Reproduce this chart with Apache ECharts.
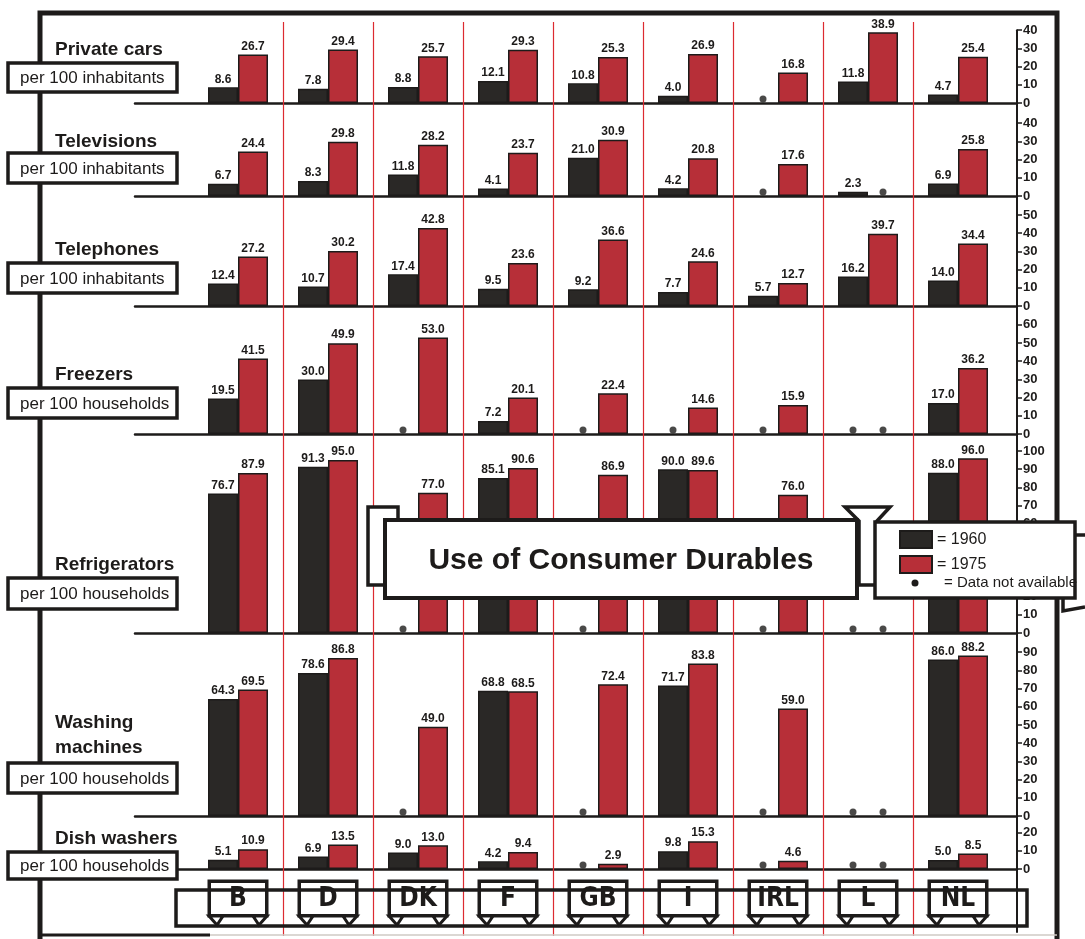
<!DOCTYPE html>
<html>
<head>
<meta charset="utf-8">
<script src="https://cdn.jsdelivr.net/npm/echarts@6/dist/echarts.min.js"></script>
<style>
html,body{margin:0;padding:0;background:#fff}
#chart{width:1085px;height:939px}
</style>
</head>
<body>
<div id="chart"></div>
<script>
// ---- data ----
const categories = ['B', 'D', 'DK', 'F', 'GB', 'I', 'IRL', 'L', 'NL'];
const yearNames = ['1960', '1975'];
const rowTitles = ['Private cars', 'Televisions', 'Telephones', 'Freezers', 'Refrigerators', 'Washing\nmachines', 'Dish washers'];
const rowUnits = ['per 100 inhabitants', 'per 100 inhabitants', 'per 100 inhabitants', 'per 100 households', 'per 100 households', 'per 100 households', 'per 100 households'];
const axisMax = [40, 40, 50, 60, 100, 90, 20];
const chartTitle = 'Use of Consumer Durables';
const missingText = 'Data not available';

// null = data not available
const cars1960 = [8.6, 7.8, 8.8, 12.1, 10.8, 4.0, null, 11.8, 4.7];
const cars1975 = [26.7, 29.4, 25.7, 29.3, 25.3, 26.9, 16.8, 38.9, 25.4];
const tv1960 = [6.7, 8.3, 11.8, 4.1, 21.0, 4.2, null, 2.3, 6.9];
const tv1975 = [24.4, 29.8, 28.2, 23.7, 30.9, 20.8, 17.6, null, 25.8];
const phones1960 = [12.4, 10.7, 17.4, 9.5, 9.2, 7.7, 5.7, 16.2, 14.0];
const phones1975 = [27.2, 30.2, 42.8, 23.6, 36.6, 24.6, 12.7, 39.7, 34.4];
const freezers1960 = [19.5, 30.0, null, 7.2, null, null, null, null, 17.0];
const freezers1975 = [41.5, 49.9, 53.0, 20.1, 22.4, 14.6, 15.9, null, 36.2];
const fridges1960 = [76.7, 91.3, null, 85.1, null, 90.0, null, null, 88.0];
const fridges1975 = [87.9, 95.0, 77.0, 90.6, 86.9, 89.6, 76.0, null, 96.0];
const washers1960 = [64.3, 78.6, null, 68.8, null, 71.7, null, null, 86.0];
const washers1975 = [69.5, 86.8, 49.0, 68.5, 72.4, 83.8, 59.0, null, 88.2];
const dish1960 = [5.1, 6.9, 9.0, 4.2, null, 9.8, null, null, 5.0];
const dish1975 = [10.9, 13.5, 13.0, 9.4, 2.9, 15.3, 4.6, null, 8.5];

const values1960 = [cars1960, tv1960, phones1960, freezers1960, fridges1960, washers1960, dish1960];
const values1975 = [cars1975, tv1975, phones1975, freezers1975, fridges1975, washers1975, dish1975];

// ---- layout & style ----
const W = 1085, H = 939;
const PLOT_L = 193, PLOT_R = 1003, AXIS_X = 1017, BASE_L = 135;
const BAND = (PLOT_R - PLOT_L) / categories.length;
const X_MIN = -0.5 - (PLOT_L - BASE_L) / BAND;
const X_MAX = categories.length - 0.5 + (AXIS_X - PLOT_R) / BAND;
const PX_PER_UNIT = 1.82;
const rowBase = [103, 196, 306, 434, 633, 816, 869];
const titleY = [50, 142, 250, 375, 565, 735, 839];
const boxTop = [63, 153, 263, 388, 578, 763, 852];
const boxH = [29, 30, 30, 30, 31, 30, 27];
const TAB_TOP = 883, TAB_BOTTOM = 918;

const INK = '#1d1b1a';
const DARK = '#2a2826';
const RED = '#b72f38';
const SEP = '#dc2b30';
const FONT = "'Liberation Sans', Arial, Helvetica, sans-serif";
const NARROW = "'Liberation Sans Narrow', 'DejaVu Sans Condensed', 'Liberation Sans', sans-serif";

const grid = [], xAxis = [], yAxis = [], series = [];

values1960.forEach((v60, i) => {
  const max = axisMax[i];
  const h = max * PX_PER_UNIT;
  grid.push({ left: BASE_L, right: W - AXIS_X, top: rowBase[i] - h, height: h });
  xAxis.push({
    type: 'value', gridIndex: i, min: X_MIN, max: X_MAX,
    axisLine: { show: true, onZero: false, lineStyle: { color: INK, width: 2.5 } },
    axisTick: { show: false }, axisLabel: { show: false }, splitLine: { show: false }
  });
  yAxis.push({
    type: 'value', gridIndex: i, position: 'right', min: 0, max: max, interval: 10,
    axisLine: { show: false, onZero: false },
    axisTick: { show: true, length: 5, lineStyle: { color: INK, width: 1.5 } },
    axisLabel: { show: true, margin: 6, fontSize: 13, fontWeight: 'bold', color: INK, fontFamily: FONT },
    splitLine: { show: false }
  });
  [v60, values1975[i]].forEach((vals, j) => {
    series.push({
      type: 'bar', name: yearNames[j], xAxisIndex: i, yAxisIndex: i,
      barWidth: 30, barGap: '0%',
      data: vals.map((v, k) => [k, v == null ? '-' : v]),
      itemStyle: { color: j ? RED : DARK, borderColor: INK, borderWidth: 1.5 },
      label: {
        show: true, position: 'top', distance: 2,
        formatter: p => Number(p.value[1]).toFixed(1),
        fontSize: 12, fontWeight: 'bold', color: INK, fontFamily: FONT
      }
    });
  });
  [v60, values1975[i]].forEach((vals, j) => {
    const miss = [];
    vals.forEach((v, k) => { if (v == null) miss.push([k, 0]); });
    if (miss.length) {
      series.push({
        type: 'scatter', xAxisIndex: i, yAxisIndex: i, clip: false, silent: true,
        symbol: 'circle', symbolSize: 7, symbolOffset: [j ? 15 : -15, -4],
        itemStyle: { color: INK }, data: miss, z: 3
      });
    }
  });
});

// country separators (thin red rules between columns)
const SEP_GRID = grid.length;
grid.push({ left: BASE_L, right: W - AXIS_X, top: 22, bottom: 3 });
xAxis.push({ type: 'value', gridIndex: SEP_GRID, min: X_MIN, max: X_MAX, show: false });
yAxis.push({ type: 'value', gridIndex: SEP_GRID, min: 0, max: 1, show: false });
series.push({
  type: 'line', xAxisIndex: SEP_GRID, yAxisIndex: SEP_GRID, data: [], silent: true,
  color: SEP,
  markLine: {
    silent: true, symbol: ['none', 'none'], label: { show: false },
    lineStyle: { color: SEP, width: 1.2, type: 'solid', opacity: 1 },
    emphasis: { disabled: true },
    data: categories.slice(1).map((c, k) => ({ xAxis: k + 0.5, lineStyle: { color: SEP } }))
  }
});

// continuous value-axis spine on the right
const SPINE_GRID = grid.length;
grid.push({ left: BASE_L, right: W - AXIS_X, top: rowBase[0] - axisMax[0] * PX_PER_UNIT, bottom: 7 });
xAxis.push({ type: 'value', gridIndex: SPINE_GRID, min: 0, max: 1, show: false });
yAxis.push({
  type: 'value', gridIndex: SPINE_GRID, position: 'right', min: 0, max: 1,
  axisLine: { show: true, onZero: false, lineStyle: { color: INK, width: 2 } },
  axisTick: { show: false }, axisLabel: { show: false }, splitLine: { show: false }
});

// country tabs along the bottom
const LABEL_GRID = grid.length;
grid.push({ left: PLOT_L, right: W - PLOT_R, top: 860, height: 10 });
xAxis.push({
  type: 'category', gridIndex: LABEL_GRID, data: categories, position: 'bottom',
  axisLine: { show: false }, axisTick: { show: false }, splitLine: { show: false },
  axisLabel: {
    show: true, interval: 0, margin: TAB_TOP - 870,
    width: 54, height: TAB_BOTTOM - TAB_TOP - 4, lineHeight: TAB_BOTTOM - TAB_TOP - 2, align: 'center',
    backgroundColor: '#fff', borderColor: INK, borderWidth: 3.5,
    fontSize: 26, fontWeight: 'bold', color: INK, fontFamily: NARROW
  }
});
yAxis.push({ type: 'value', gridIndex: LABEL_GRID, show: false });

// ---- decoration: frame, row captions, title, legend box ----
const graphic = [];
function text(x, y, str, font, extra) {
  return {
    type: 'text', z: 50,
    style: Object.assign({ text: str, x: x, y: y, font: font, fill: INK,
      textAlign: 'left', textVerticalAlign: 'middle', align: 'left', verticalAlign: 'middle' }, extra || {})
  };
}
function rect(x, y, w, h, lw, fill) {
  return { type: 'rect', z: 50, shape: { x: x, y: y, width: w, height: h },
    style: { fill: fill === undefined ? '#fff' : fill, stroke: INK, lineWidth: lw } };
}
function line(pts, lw, color) {
  return { type: 'polyline', z: 50, shape: { points: pts },
    style: { fill: null, stroke: color || INK, lineWidth: lw } };
}

graphic.push(line([[40, H], [40, 13], [1057, 13], [1057, H]], 5));
graphic.push(line([[40, 935], [210, 935]], 3));
graphic.push(line([[210, 935], [1057, 935]], 1.5, '#cfcac4'));

rowTitles.forEach((t, i) => {
  graphic.push(text(55, titleY[i], t, 'bold 19px ' + FONT, { lineHeight: 25 }));
  graphic.push(rect(8, boxTop[i], 169, boxH[i], 3.5));
  graphic.push(text(20, boxTop[i] + boxH[i] / 2 + 1, rowUnits[i], '17px ' + FONT));
});

// ribbon band behind the country tabs, with folded feet under each tab
graphic.push(rect(176, 890, 851, 36, 3.5, null));
categories.forEach((c, k) => {
  const cx = PLOT_L + BAND * (k + 0.5);
  [-1, 1].forEach(s => {
    graphic.push({ type: 'polygon', z: 45, shape: { points: [
      [cx + s * 29, TAB_BOTTOM - 2], [cx + s * 15, TAB_BOTTOM - 2], [cx + s * 21, TAB_BOTTOM + 7]] },
      style: { fill: '#fff', stroke: INK, lineWidth: 3 } });
  });
});

// title plaque
graphic.push(rect(368, 507, 30, 78, 3.5));
graphic.push({ type: 'polygon', z: 50, shape: { points: [[845, 507], [890, 507], [877, 521], [877, 585], [859, 585], [859, 521]] },
  style: { fill: '#fff', stroke: INK, lineWidth: 3.5 } });
graphic.push(rect(385, 520, 472, 78, 4));
graphic.push(text(621, 561, chartTitle, 'bold 30px ' + FONT, { textAlign: 'center', align: 'center' }));

// legend box
graphic.push(line([[1075, 535], [1085, 535]], 3.5));
graphic.push(line([[1063, 598], [1063, 611], [1085, 607]], 3.5));
graphic.push(rect(875, 522, 200, 76, 3.5));
graphic.push({ type: 'circle', z: 55, shape: { cx: 915, cy: 583, r: 3.5 }, style: { fill: INK } });
graphic.push(text(944, 583, '= ' + missingText, '15px ' + FONT, { z: 55 }));

const option = {
  animation: false,
  backgroundColor: '#fff',
  grid: grid,
  xAxis: xAxis,
  yAxis: yAxis,
  series: series,
  legend: {
    data: yearNames, orient: 'vertical', left: 899, top: 530, z: 60,
    itemWidth: 32, itemHeight: 17, itemGap: 6, icon: 'rect', selectedMode: false,
    formatter: '= {name}', padding: 0,
    textStyle: { fontSize: 16, color: INK, fontFamily: FONT }
  },
  graphic: { elements: graphic }
};

const chart = echarts.init(document.getElementById('chart'), null, { renderer: 'canvas' });
chart.setOption(option);
</script>
</body>
</html>
